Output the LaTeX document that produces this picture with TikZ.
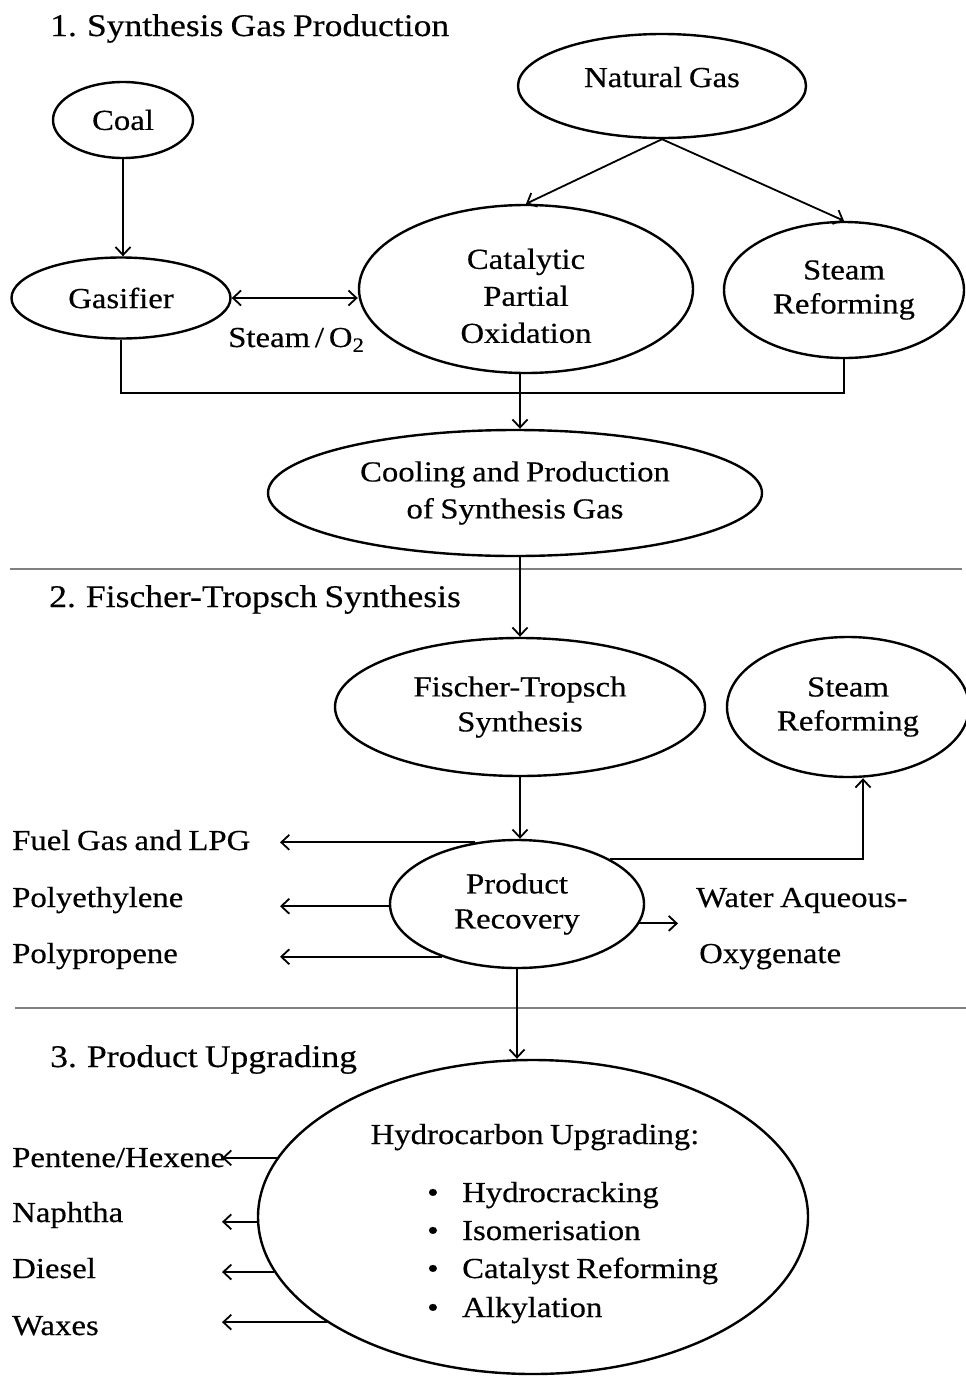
\documentclass[tikz,border=0pt]{standalone}
\usepackage{fontspec}
\setmainfont{Liberation Serif}[FakeStretch=1.13, WordSpace=0.8, FakeBold=0.4]
\usetikzlibrary{arrows.meta,shapes.geometric}
\begin{document}
\begin{tikzpicture}[x=1pt,y=-1pt,
  nfont/.style={font=\fontsize{29pt}{#1}\selectfont},
  oval/.style={ellipse, draw, line width=2.4pt, inner sep=0pt, align=center, nfont=35pt},
  lbl/.style={anchor=base west, inner sep=0pt, nfont=35pt},
  ttl/.style={anchor=base west, inner sep=0pt, font=\fontsize{31.5pt}{36pt}\selectfont},
  conn/.style={line width=1.8pt},
  tip/.tip={Straight Barb[length=8pt,width=15pt,line width=1.8pt]},
  arr/.style={conn, -tip},
  sep/.style={line width=2.2pt, draw=black!50}]
\useasboundingbox (0,0) rectangle (966,1376);
\fill[white] (0,0) rectangle (966,1376);

% ---------- Section 1 ----------
\node[ttl] (t1) at (50,36) {1. Synthesis Gas Production};
\node[oval, minimum width=140pt, minimum height=76pt] (coal) at (123,120) {Coal};
\node[oval, minimum width=288pt, minimum height=104pt, text depth=18pt] (ng) at (662,86) {Natural Gas};
\node[oval, minimum width=219pt, minimum height=81pt] (gas) at (121,298) {Gasifier};
\node[oval, minimum width=334pt, minimum height=168pt, nfont=37pt] (cpo) at (526,289) {\rule{0pt}{34pt}Catalytic\\Partial\\Oxidation};
\node[oval, minimum width=240pt, minimum height=136pt, nfont=34pt] (sr1) at (844,290) {Steam\\Reforming};
\node[lbl] (so2) at (228,347) {Steam\,/\,O\textsubscript{2}};
\node[oval, minimum width=494pt, minimum height=126pt, nfont=37pt] (cool) at (515,493) {Cooling and Production\\of Synthesis Gas};
\coordinate (bus) at (520,393);

\draw[arr] (coal.south) -- (coal.south |- gas.north);
\draw[arr] (ng.south) -- (cpo.north);
\draw[arr] (ng.south) -- (sr1.north);
\draw[conn, tip-tip] (gas.east) -- (gas.east -| cpo.west);
\draw[conn] (gas.south) |- (bus) -| (sr1.south);
\draw[conn] (bus |- cpo.south) -- (bus);
\draw[arr] (bus) -- (bus |- cool.north);

\draw[sep] (10,569) -- (962,569);

% ---------- Section 2 ----------
\node[ttl] (t2) at (49,607) {2. Fischer-Tropsch Synthesis};
\node[oval, minimum width=370pt, minimum height=138pt] (ft) at (520,707) {Fischer-Tropsch\\Synthesis};
\node[oval, minimum width=242pt, minimum height=140pt, nfont=34pt] (sr2) at (848,707) {Steam\\Reforming};
\node[oval, minimum width=254pt, minimum height=128pt] (pr) at (517,904) {Product\\Recovery};

\node[lbl] (fg) at (12,850) {Fuel Gas and LPG};
\node[lbl] (pe) at (12,907) {Polyethylene};
\node[lbl] (pp) at (12,963) {Polypropene};
\node[lbl] (wa) at (696,907) {Water Aqueous-};
\node[lbl] (ox) at (699,963) {Oxygenate};

\coordinate (tipP) at (280,900);
\coordinate (tipW) at (678,920);
\draw[arr] (ft.north |- cool.south) -- (ft.north);
\draw[arr] (ft.south) -- (ft.south |- pr.north);
\draw[arr] (pr.124.5) -- (pr.124.5 -| tipP);
\draw[arr] (pr.181) -- (pr.181 -| tipP);
\draw[arr] (pr.215) -- (pr.215 -| tipP);
\draw[arr] (pr.351.6) -- (pr.351.6 -| tipW);
\draw[arr] (pr.26.5) -| ([xshift=15pt]sr2.south);

\draw[sep] (15,1008) -- (966,1008);

% ---------- Section 3 ----------
\node[ttl] (t3) at (50,1067) {3. Product Upgrading};
\node[oval, minimum width=550pt, minimum height=314pt] (hc) at (533,1217) {};
\node[anchor=base, inner sep=0pt, nfont=35pt] (hcu) at (535,1144) {Hydrocarbon Upgrading:};
\node[lbl] (b1) at (427,1202) {\makebox[35pt][l]{\textbullet}Hydrocracking};
\node[lbl] (b2) at (427,1240) {\makebox[35pt][l]{\textbullet}Isomerisation};
\node[lbl] (b3) at (427,1278) {\makebox[35pt][l]{\textbullet}Catalyst Reforming};
\node[lbl] (b4) at (427,1317) {\makebox[35pt][l]{\textbullet}Alkylation};

\node[lbl] (ph) at (12,1167) {Pentene/Hexene};
\node[lbl] (na) at (12,1222) {Naphtha};
\node[lbl] (di) at (12,1278) {Diesel};
\node[lbl] (wx) at (12,1335) {Waxes};

\coordinate (tipH) at (222,1200);
\draw[arr] (pr.south) -- (pr.south |- hc.north);
\draw[arr] (hc.167.7) -- (hc.167.7 -| tipH);
\draw[arr] (hc.181) -- (hc.181 -| tipH);
\draw[arr] (hc.192.3) -- (hc.192.3 -| tipH);
\draw[arr] (hc.207.6) -- (hc.207.6 -| tipH);
\end{tikzpicture}
\end{document}
